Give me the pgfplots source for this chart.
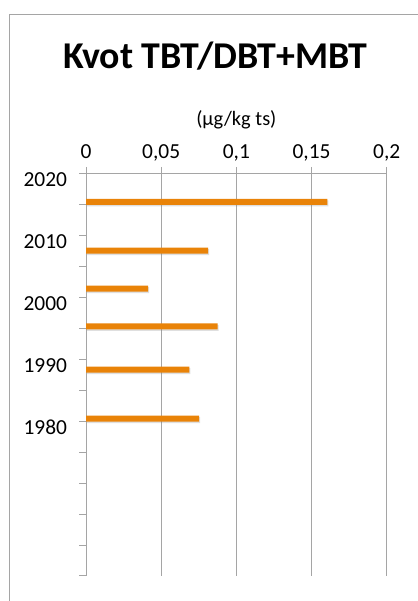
\documentclass[border=0pt]{standalone}
\usepackage{pgfplots}
\pgfplotsset{compat=1.18}
\usepackage{fontspec}
\setmainfont{Carlito}
\usetikzlibrary{shadows}

\definecolor{barorange}{RGB}{233,131,8}
\definecolor{gridgray}{RGB}{165,165,165}

\begin{document}
\begin{tikzpicture}
\useasboundingbox (0,0) rectangle (418bp,601bp);
% chart frame
\draw[gridgray, line width=1bp] (9bp,-2bp) -- (9bp,586bp) -- (420bp,586bp);
\begin{axis}[
  at={(86bp,25bp)}, anchor=south west,
  scale only axis,
  width=300.7bp, height=402.7bp,
  xmin=0, xmax=0.2,
  ymin=1955, ymax=2020,
  axis x line*=top,
  axis y line*=left,
  axis line style={gridgray, line width=1bp},
  xtick={0,0.05,0.1,0.15,0.2},
  xticklabels={0,{0,05},{0,1},{0,15},{0,2}},
  ytick={1955,1960,...,2020},
  yticklabels={,,,,,1980,,1990,,2000,,2010,,2020},
  tick align=outside,
  major tick length=6.5bp,
  tick style={gridgray, line width=1bp},
  xmajorgrids,
  major grid style={gridgray, line width=1bp},
  /pgf/number format/assume math mode=true,
  tick label style={font=\fontsize{21.5}{21.5}\selectfont, text=black},
  xticklabel style={anchor=base, yshift=8bp},
  yticklabel style={yshift=-6bp, xshift=-9bp},
  xlabel={(µg/kg ts)},
  x label style={at={(axis description cs:0.5,1)}, anchor=base, yshift=48bp,
    font=\fontsize{20.5}{20.5}\selectfont},
  title={\textbf{Kvot TBT/DBT+MBT}},
  title style={at={(axis description cs:0.5,1)}, anchor=base, yshift=99bp,
    xshift=-21bp, font=\fontsize{38}{38}\selectfont},
  clip=false,
]
\addplot[xbar, bar width=6bp, fill=barorange, draw=none,
  drop shadow={shadow xshift=1bp, shadow yshift=-1.5bp, opacity=0.25}]
  coordinates {
    (0.1605,2015.4)
    (0.0813,2007.5)
    (0.0414,2001.4)
    (0.0876,1995.3)
    (0.0687,1988.3)
    (0.0752,1980.4)
  };
\end{axis}
\end{tikzpicture}
\end{document}
